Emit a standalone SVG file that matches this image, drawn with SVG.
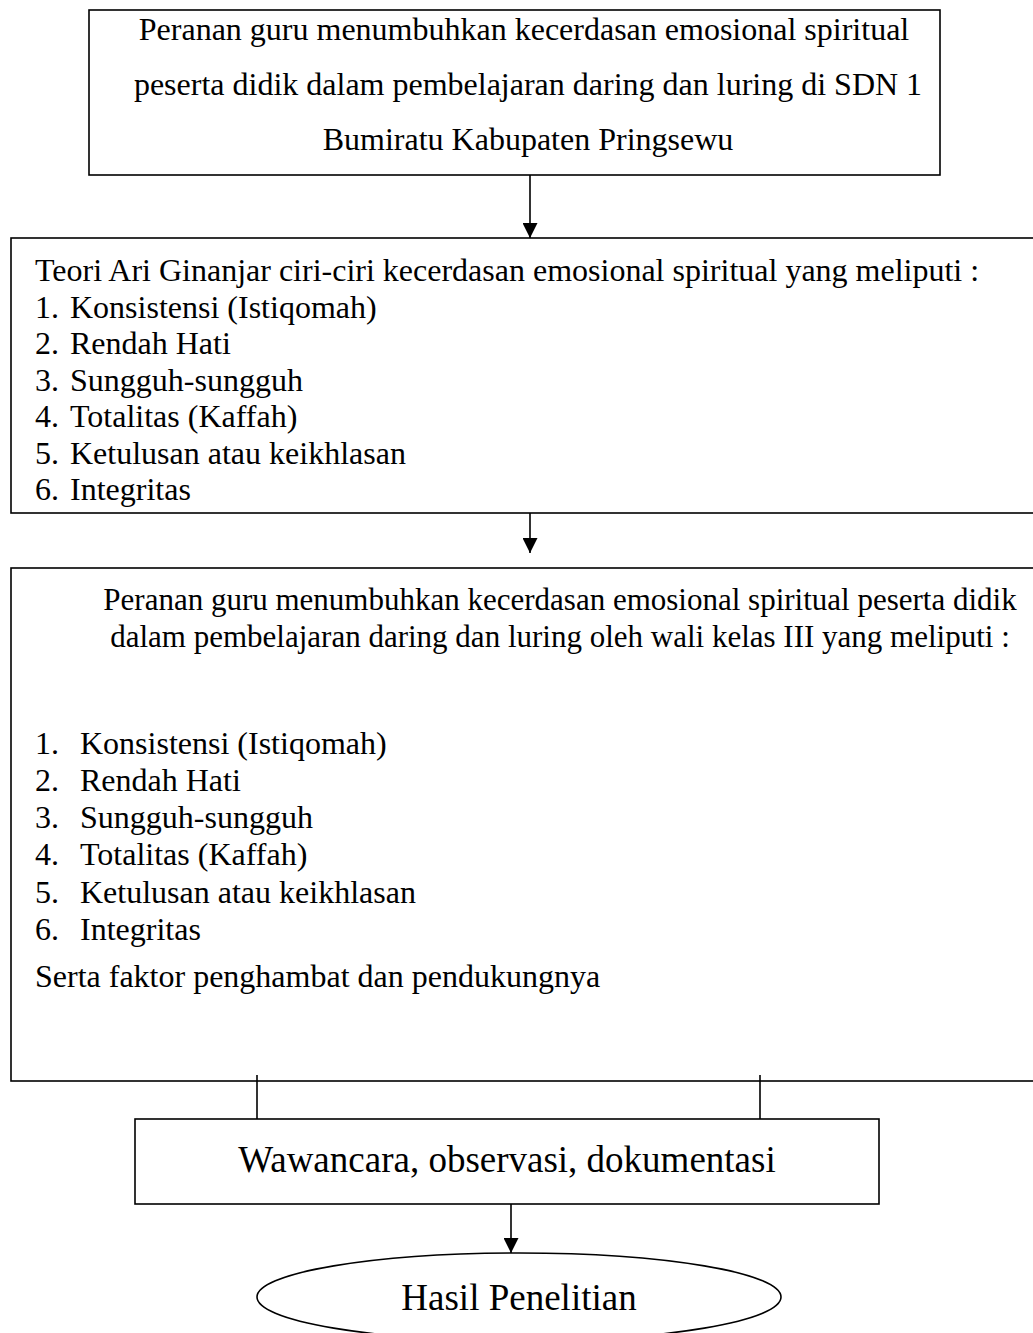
<svg xmlns="http://www.w3.org/2000/svg" width="1033" height="1333" viewBox="0 0 1033 1333">
<style>
text{font-family:"Liberation Serif","Times New Roman",serif;fill:#000;font-size:32px}
.c{text-anchor:middle}
.box{fill:#fff;stroke:#000;stroke-width:1.6}
.line{stroke:#000;stroke-width:1.6;fill:none}
.big{font-size:37px}
.h3{font-size:31px}
</style>
<defs>
<marker id="ah" viewBox="0 0 10 10" refX="10" refY="5" markerWidth="15" markerHeight="15" markerUnits="userSpaceOnUse" orient="auto">
<path d="M0,0 L10,5 L0,10 z" fill="#000"/>
</marker>
</defs>
<g id="node-judul">
<rect class="box" x="89" y="10" width="851" height="165" stroke-width="2.2"/>
<text class="c" x="524" y="40">Peranan guru menumbuhkan kecerdasan emosional spiritual</text>
<text class="c" x="528" y="95">peserta didik dalam pembelajaran daring dan luring di SDN 1</text>
<text class="c" x="528" y="150">Bumiratu Kabupaten Pringsewu</text>
</g>
<g id="node-teori">
<rect class="box" x="11" y="238" width="1100" height="275"/>
<text x="35" y="281">Teori Ari Ginanjar ciri-ciri kecerdasan emosional spiritual yang meliputi :</text>
<text x="35" y="318">1.</text><text x="70" y="318">Konsistensi (Istiqomah)</text>
<text x="35" y="354">2.</text><text x="70" y="354">Rendah Hati</text>
<text x="35" y="391">3.</text><text x="70" y="391">Sungguh-sungguh</text>
<text x="35" y="427">4.</text><text x="70" y="427">Totalitas (Kaffah)</text>
<text x="35" y="464">5.</text><text x="70" y="464">Ketulusan atau keikhlasan</text>
<text x="35" y="500">6.</text><text x="70" y="500">Integritas</text>
</g>
<g id="node-peranan">
<rect class="box" x="11" y="568" width="1104" height="513"/>
<text class="c h3" x="560" y="610">Peranan guru menumbuhkan kecerdasan emosional spiritual peserta didik</text>
<text class="c h3" x="560" y="647">dalam pembelajaran daring dan luring oleh wali kelas III yang meliputi :</text>
<text x="35" y="754">1.</text><text x="80" y="754">Konsistensi (Istiqomah)</text>
<text x="35" y="791">2.</text><text x="80" y="791">Rendah Hati</text>
<text x="35" y="828">3.</text><text x="80" y="828">Sungguh-sungguh</text>
<text x="35" y="865">4.</text><text x="80" y="865">Totalitas (Kaffah)</text>
<text x="35" y="903">5.</text><text x="80" y="903">Ketulusan atau keikhlasan</text>
<text x="35" y="940">6.</text><text x="80" y="940">Integritas</text>
<text x="35" y="987">Serta faktor penghambat dan pendukungnya</text>
</g>
<g id="node-metode">
<rect class="box" x="135" y="1119" width="744" height="85"/>
<text class="c big" x="507" y="1172">Wawancara, observasi, dokumentasi</text>
</g>
<g id="node-hasil">
<ellipse class="box" cx="519" cy="1297" rx="262" ry="44"/>
<text class="c big" x="519" y="1310">Hasil Penelitian</text>
</g>
<g id="connectors">
<line class="line" x1="530" y1="175" x2="530" y2="238" marker-end="url(#ah)"/>
<line class="line" x1="530" y1="513" x2="530" y2="553" marker-end="url(#ah)"/>
<line class="line" x1="257" y1="1075" x2="257" y2="1119"/>
<line class="line" x1="760" y1="1075" x2="760" y2="1119"/>
<line class="line" x1="511" y1="1204" x2="511" y2="1253" marker-end="url(#ah)"/>
</g>
</svg>
